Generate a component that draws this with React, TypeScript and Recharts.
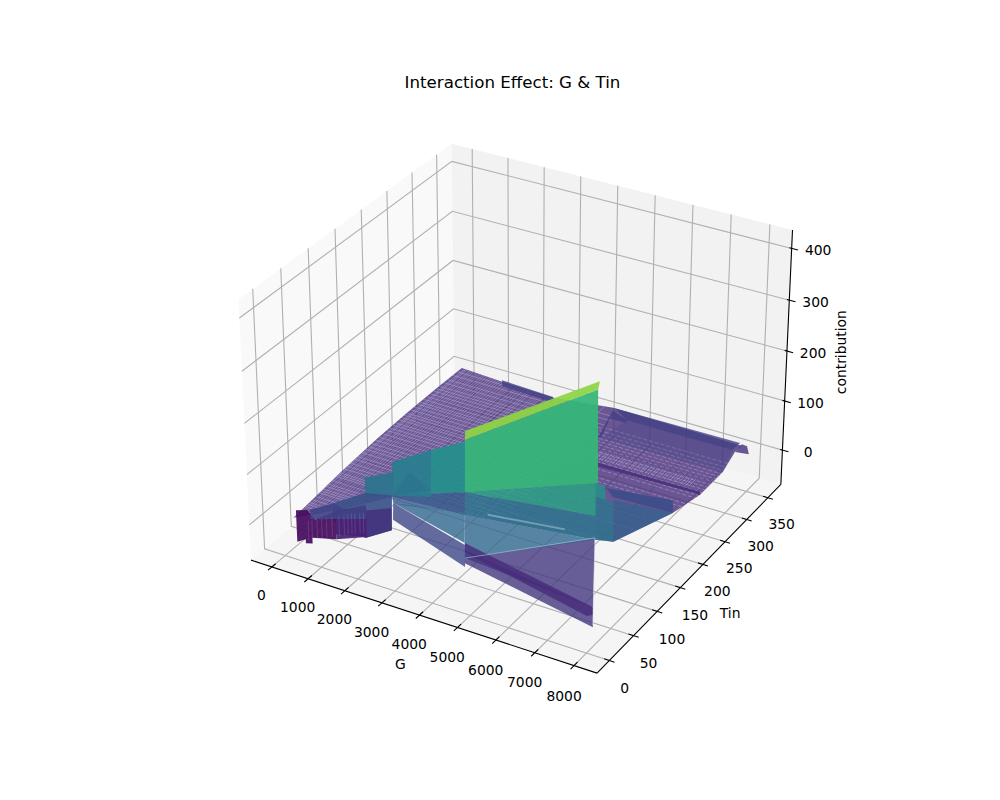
import React from "react";
import { ScatterChart, Scatter, XAxis, YAxis } from "recharts";

const gTicks = [0, 1000, 2000, 3000, 4000, 5000, 6000, 7000, 8000];
const tinTicks = [0, 50, 100, 150, 200, 250, 300, 350];
const zTicks = [0, 100, 200, 300, 400];
const gLim = [-580, 8580];
const tinLim = [-25, 381];
const zLim = [-71, 435];

// surface facets, painted back to front
const planeG = [295,272,155,72,49,48,68,1303,2759,4262,7791,7772,7940,7944,7945,7768,7165,6790,3657,1783,1044];
const planeTin = [-2,21,96,176,236,299,350,346,343,357,355,340,297,261,245,200,121,116,90,83,35];
const planeC = [14,14,14,14,14,14,14,14,14,14,14,14,14,14,14,14,14,14,14,14,14];

const facetG = [
  [4991,7814,7940,4858],
  [1409,2905,3024,1558],
  [4467,7832,7814,4991],
  [4774,4471,4991,5018,4592,4858],
  [7917,7894,8039,8245],
  [5089,7787,7849,7706,5177],
  [6106,7699,7671,6131],
  [6215,7671,7067],
  [4315,7993,8128],
  [4275,8032,4315],
  [4314,8128,8167,4326],
  [4260,8108,8118,8023,4271],
  [2140,4231,4260],
  [2140,4304,4412,2196],
  [2109,4249,4231,2385,2140],
  [4249,8012,8051,4275],
  [4249,7962,8012],
  [7962,8171,8200,7952],
  [7952,8200,8371,8411,8032],
  [2095,3261,3434,2109],
  [3261,4256,4249,3344],
  [2109,2496,3277],
  [1744,2143,2109,1712],
  [942,1737,2109,2142,1786,1330,949],
  [1786,2142,2142,1786],
  [565,783,936,1282,1768,1786,1244,1244,871,868,729,730,570],
  [1244,1768,1786,1244],
  [834,942,1356,1695,1664,834],
  [4211,7889,8000,4249],
  [4207,7917,7889,4211],
];
const facetTin = [
  [328,329,297,282],
  [336,332,322,325],
  [344,346,329,328],
  [282,339,328,322,323,282],
  [327,345,344,330],
  [257,259,253,254,250],
  [192,205,208,205],
  [200,208,129],
  [41,15,2],
  [45,12,41],
  [41,2,-1,40],
  [45,3,3,-2,44],
  [60,48,45],
  [60,42,34,55],
  [60,47,48,61,60],
  [47,15,12,45],
  [47,18,15],
  [18,19,19,19],
  [19,19,20,18,12],
  [63,55,41,60],
  [55,48,47,47],
  [60,68,52],
  [35,63,60,37],
  [29,35,60,56,30,24,27],
  [30,56,56,30],
  [-14,-8,-4,20,34,32,13,13,-6,-6,-9,-9,-14],
  [13,34,32,13],
  [-6,29,22,38,41,-6],
  [51,26,19,47],
  [52,27,26,51],
];
const facetC = [
  [28,28,14,28],
  [28,28,28,28],
  [28,28,28,28],
  [28,28,28,28,28,28],
  [28,28,28,28],
  [4,4,4,4,4],
  [33,33,4,4],
  [4,4,4],
  [-12,138,19],
  [69,138,-12],
  [4,19,-15,-21],
  [13,19,4,4,-4],
  [30,69,13],
  [30,13,-21,2],
  [45,111,69,30,30],
  [111,180,138,69],
  [111,238,180],
  [238,238,211,211],
  [211,211,211,138,138],
  [108,164,88,45],
  [164,208,111,88],
  [45,92,88],
  [94,89,45,53],
  [30,63,45,-21,-21,-2,-2],
  [34,23,-21,-21],
  [46,46,27,33,36,-21,-11,-21,-9,-21,-21,-13,-17],
  [32,36,-21,-21],
  [46,30,33,36,4,27],
  [208,402,238,111],
  [224,417,402,208],
];
// contribution level that sets each facet's colour
const facetLevel = [45,38,40,38,15,8,62,95,25,107,25,8,107,50,85,138,227,190,135,150,185,130,130,68,22,-36,-2,45,263,340];

// thin mesh lines lying on the flat part of the surface
const meshTin = [6,11,15,22,27,31,37,44,52,56,60,66,71,79,88,92,96,105,111,118,127,133,142,150,156,163,171,178,186,194,200,207,212,220,225,231,236,244,251,258,263,270,277,284,291,297,303,312,320,331,340];
const meshG = [150,190,230,310,360,420,500,560,620,700,760,830,910,970,1040,1110,1180,1240,1320,1390,1470,1530,1600,1720,1790,1870,1950,2060,2120,2180,2300,2370,2440,2510,2640,2710,2790,2880,3020,3100,3230,3310,3400,3480,3600,3680,3760,3900,4050];
const meshTinFar = [118,152,176,215,222,237,243,250,256,262,268,275,281,287,293,300,307,315];
const meshBandG = [4700,4790,4860,4930,5010,5070,5150,5220,5290,5370,5430,5510,5590,5660,5720,5800,5870,5950,6010,6090,6170,6240,6300,6380,6460,6530,6590,6670,6750,6820,6880,6960,7040,7110,7170,7250,7330,7400,7460,7540];
const meshBandTin = [254, 270];
const meshC = 14;

// pale seams along facet edges
const seamG = [[4106,5955],[4315,7993],[7993,8128]];
const seamTin = [[102,117],[41,15],[15,2]];
const seamC = [[14,14],[-12,138],[138,-15]];
const seamWidth = [2, 0.8, 1];
const seamOpacity = [0.4, 0.6, 0.6];

// short pale streaks on the wall at the low-G end
const streakG = [800,870,950,1020,1090,1180,1300,1380,1440,1500,1560,1650,1720];
const streakTin = [-8,-6,-2,2,6,10,15,19,22,25,27,30,32];
const streakLow = -15;
const streakHigh = 25;

const viridis = ["#440154","#482878","#3e4a89","#31688e","#26828e","#1f9e89","#35b779","#6dcd59","#b4de2c","#fde725"];
function levelColor(level: number) {
  const t = Math.max(0, Math.min(1, (level + 50) / 470)) * (viridis.length - 1);
  const i = Math.min(viridis.length - 2, Math.floor(t));
  const f = t - i;
  const c = (h: string, o: number) => parseInt(h.slice(o, o + 2), 16);
  const mix = (o: number) => Math.round(c(viridis[i], o) * (1 - f) + c(viridis[i + 1], o) * f);
  return `rgb(${mix(1)},${mix(3)},${mix(5)})`;
}

const k = 0.185 / 616;
const xDomain = [-0.095 - 204.5 * k, 0.09 + 179.5 * k];
const yDomain = [-0.095 - 88 * k, 0.09 + 96 * k];
const boxF = (1.8294640721620434 * 25) / 24 / Math.sqrt(41);
const box = [4 * boxF, 4 * boxF, 3 * boxF];

function project(g: number, tin: number, c: number) {
  const p = [
    ((g - gLim[0]) / (gLim[1] - gLim[0]) - 0.5) * box[0],
    ((tin - tinLim[0]) / (tinLim[1] - tinLim[0]) - 0.5) * box[1],
    ((c - zLim[0]) / (zLim[1] - zLim[0]) - 0.5) * box[2],
  ];
  const xv = 0.866025 * p[0] + 0.5 * p[1];
  const yv = -0.25 * p[0] + 0.433013 * p[1] + 0.866025 * p[2];
  const zv = 0.433013 * p[0] - 0.75 * p[1] + 0.5 * p[2] - 10;
  return { x: xv / -zv, y: yv / -zv };
}

type Seg = { pts: number[][]; fill?: string; opacity?: number; stroke?: string; width?: number; dash?: string; clip?: boolean; clipDef?: boolean };
const segs: Seg[] = [];
const [g0, g1] = gLim;
const [t0, t1] = tinLim;
const [z0, z1] = zLim;
const grid = "#b0b0b0";
const axisW = 1.1;
segs.push({ pts: [[g0, t0, z0], [g1, t0, z0], [g1, t1, z0], [g0, t1, z0]], fill: "#f5f5f5" });
segs.push({ pts: [[g0, t0, z0], [g0, t1, z0], [g0, t1, z1], [g0, t0, z1]], fill: "#f9f9f9" });
segs.push({ pts: [[g0, t1, z0], [g1, t1, z0], [g1, t1, z1], [g0, t1, z1]], fill: "#f2f2f2" });
gTicks.forEach((g) => segs.push({ pts: [[g, t0, z0], [g, t1, z0], [g, t1, z1]], stroke: grid, width: axisW }));
tinTicks.forEach((t) => segs.push({ pts: [[g1, t, z0], [g0, t, z0], [g0, t, z1]], stroke: grid, width: axisW }));
zTicks.forEach((z) => segs.push({ pts: [[g0, t0, z], [g0, t1, z], [g1, t1, z]], stroke: grid, width: axisW }));
segs.push({ pts: [[g0, t0, z0], [g1, t0, z0]], stroke: "#000", width: axisW });
segs.push({ pts: [[g1, t0, z0], [g1, t1, z0]], stroke: "#000", width: axisW });
segs.push({ pts: [[g1, t1, z0], [g1, t1, z1]], stroke: "#000", width: axisW });
gTicks.forEach((g) => segs.push({ pts: [[g, t0 - 7, z0], [g, t0 + 7, z0]], stroke: "#000", width: axisW }));
tinTicks.forEach((t) => segs.push({ pts: [[g1 - 130, t, z0], [g1 + 130, t, z0]], stroke: "#000", width: axisW }));
zTicks.forEach((z) => segs.push({ pts: [[g1 - 60, t1, z], [g1 + 160, t1, z]], stroke: "#000", width: axisW }));

const zip = (g: number[], t: number[], c: number[]) => g.map((v, i) => [v, t[i], c[i]]);
const meshColor = "#d9cff0";
segs.push({ pts: zip(planeG, planeTin, planeC), fill: levelColor(11), opacity: 0.8, clipDef: true });
meshTin.forEach((t) => segs.push({ pts: [[0, t, meshC], [4500, t, meshC]], stroke: meshColor, width: 0.9, opacity: 0.35, clip: true }));
meshG.forEach((g) => segs.push({ pts: [[g, -10, meshC], [g, 370, meshC]], stroke: meshColor, width: 0.9, opacity: 0.35, clip: true }));
meshTinFar.forEach((t) => segs.push({ pts: [[4500, t, meshC], [8000, t, meshC]], stroke: meshColor, width: 0.7, opacity: 0.5, dash: "4 2", clip: true }));
meshBandG.forEach((g) => segs.push({ pts: [[g, meshBandTin[0], meshC], [g, meshBandTin[1], meshC]], stroke: meshColor, width: 0.9, opacity: 0.4, clip: true }));
// facets painted over an earlier one need more cover, the band behind the top edge less
const faintFacets = [0];
const denseFacets = [6, 19, 20, 21, 22, 23, 24, 25, 26, 27, 28, 29];
facetG.forEach((g, i) =>
  segs.push({
    pts: zip(g, facetTin[i], facetC[i]),
    fill: levelColor(facetLevel[i]),
    opacity: faintFacets.includes(i) ? 0.3 : denseFacets.includes(i) ? 0.93 : 0.8,
  })
);
streakG.forEach((g, i) => segs.push({ pts: [[g, streakTin[i], streakLow], [g, streakTin[i], streakHigh]], stroke: "#c9b8e0", width: 0.7, opacity: 0.25 }));
seamG.forEach((g, i) => segs.push({ pts: zip(g, seamTin[i], seamC[i]), stroke: "#cfe0ea", width: seamWidth[i], opacity: seamOpacity[i] }));

const labels: { at: number[]; text: string; rotate?: number }[] = [
  ...gTicks.map((g) => ({ at: [g + 450 - g * 0.01, t0 - 49, z0], text: String(g) })),
  ...tinTicks.map((t) => ({ at: [g1 + 800, t * 0.985 - 34, z0], text: String(t) })),
  ...zTicks.map((z) => ({ at: [g1 + 570, t1 + 10, z], text: String(z) })),
  { at: [4642, t0 - 82, z0], text: "G" },
  { at: [g1 + 1458, 134, z0], text: "Tin" },
  { at: [g1 + 50, t1 + 135, 90], text: "contribution", rotate: -90 },
];

function Poly({ points, s }: { points: { x: number; y: number }[]; s: Seg }) {
  const d = points.map((p, i) => `${i ? "L" : "M"}${p.x},${p.y}`).join("") + (s.fill ? "Z" : "");
  const path = (
    <path
      d={d}
      fill={s.fill ?? "none"}
      fillOpacity={s.fill ? s.opacity ?? 1 : undefined}
      stroke={s.stroke ?? "none"}
      strokeOpacity={s.stroke ? s.opacity ?? 1 : undefined}
      strokeWidth={s.width ?? 0}
      strokeDasharray={s.dash}
      clipPath={s.clip ? "url(#surfacePlane)" : undefined}
    />
  );
  if (!s.clipDef) return path;
  return (
    <g>
      <clipPath id="surfacePlane">
        <path d={d} />
      </clipPath>
      {path}
    </g>
  );
}

export default function App() {
  return (
    <div style={{ position: "absolute", left: 0, top: 0 }}>
      <ScatterChart width={1000} height={800} margin={{ top: 0, right: 0, bottom: 0, left: 0 }}>
        <XAxis type="number" dataKey="x" domain={xDomain} hide allowDataOverflow />
        <YAxis type="number" dataKey="y" domain={yDomain} hide allowDataOverflow />
        {segs.map((s, i) => (
          <Scatter
            key={i}
            data={s.pts.map((p) => project(p[0], p[1], p[2]))}
            isAnimationActive={false}
            shape={() => <g />}
            line={(lp: any) => <Poly key="l" points={lp.points} s={s} />}
          />
        ))}
        {labels.map((l, i) => (
          <Scatter
            key={"t" + i}
            data={[project(l.at[0], l.at[1], l.at[2])]}
            isAnimationActive={false}
            shape={(sp: any) => (
              <text
                x={sp.cx}
                y={sp.cy}
                textAnchor="middle"
                dominantBaseline="central"
                fontFamily="DejaVu Sans"
                fontSize={13.89}
                transform={l.rotate ? `rotate(${l.rotate} ${sp.cx} ${sp.cy})` : undefined}
              >
                {l.text}
              </text>
            )}
          />
        ))}
        <text x={512.5} y={88} textAnchor="middle" fontFamily="DejaVu Sans" fontSize={16.67}>
          Interaction Effect: G &amp; Tin
        </text>
      </ScatterChart>
    </div>
  );
}
